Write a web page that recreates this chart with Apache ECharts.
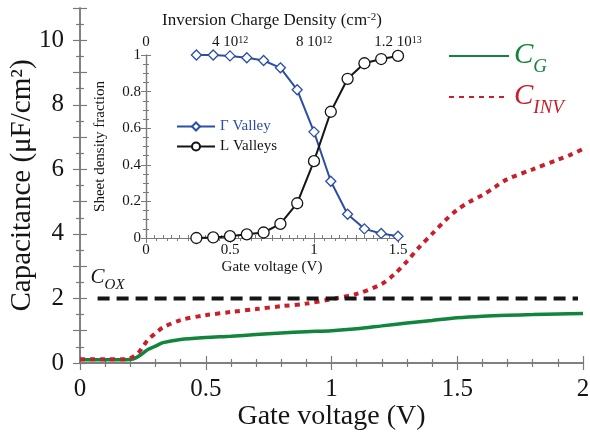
<!DOCTYPE html>
<html>
<head>
<meta charset="utf-8">
<script src="https://cdn.jsdelivr.net/npm/echarts@6/dist/echarts.min.js"></script>
<style>
  html, body { margin: 0; padding: 0; background: #fff; }
  #chart { width: 590px; height: 436px; }
</style>
</head>
<body>
<div id="chart"></div>
<script>
// main panel: capacitance vs gate voltage
const cgVoltage = [0, 0.1, 0.2, 0.22, 0.25, 0.27, 0.3, 0.33, 0.4, 0.5, 0.6, 0.7, 0.8, 0.9, 1.0, 1.1, 1.2, 1.3, 1.4, 1.5, 1.6, 1.7, 1.8, 1.9, 2.0];
const cgValues = [0.1, 0.1, 0.11, 0.15, 0.3, 0.42, 0.52, 0.63, 0.73, 0.79, 0.83, 0.88, 0.93, 0.97, 1.0, 1.06, 1.15, 1.24, 1.32, 1.4, 1.45, 1.48, 1.5, 1.52, 1.53];
const invVoltage = [0, 0.1, 0.18, 0.2, 0.23, 0.25, 0.27, 0.3, 0.33, 0.4, 0.5, 0.6, 0.7, 0.8, 0.9, 1.0, 1.1, 1.2, 1.25, 1.3, 1.35, 1.4, 1.45, 1.5, 1.55, 1.6, 1.65, 1.7, 1.8, 1.9, 1.95, 2.0];
const invValues = [0.12, 0.12, 0.12, 0.15, 0.3, 0.5, 0.72, 0.92, 1.1, 1.33, 1.48, 1.58, 1.67, 1.76, 1.84, 1.98, 2.14, 2.45, 2.75, 3.15, 3.6, 4.0, 4.4, 4.75, 5.0, 5.2, 5.45, 5.7, 6.0, 6.3, 6.45, 6.63];
const coxVoltage = [0.07, 1.98];
const coxValue = 2;

// inset: sheet density fraction per valley
const valleyVoltage = [0.3, 0.4, 0.5, 0.6, 0.7, 0.8, 0.9, 1.0, 1.1, 1.2, 1.3, 1.4, 1.5];
const gammaFraction = [1.0, 1.0, 0.995, 0.985, 0.97, 0.93, 0.81, 0.58, 0.31, 0.13, 0.05, 0.025, 0.01];
const lFraction = [0.0, 0.003, 0.01, 0.02, 0.03, 0.077, 0.19, 0.42, 0.69, 0.87, 0.955, 0.978, 0.995];
const chargeTicks = [0, 4e12, 8e12, 1.2e13];
const chargeLabels = ["0", "{n|4 10}{s|12}", "{n|8 10}{s|12}", "{n|1.2 10}{s|13}"];

const GREEN = "#12853d", RED = "#c8202b", BLUE = "#2d4ea6", INK = "#151515", AXIS = "#7a7a7a";
const SERIF = "Liberation Serif";

const pairs = (xs, ys) => xs.map((x, i) => [x, ys[i]]);

const chart = echarts.init(document.getElementById("chart"), null, { renderer: "canvas" });

const mainAxisCommon = {
  axisLine: { show: true, lineStyle: { color: AXIS, width: 1.5 } },
  axisTick: { inside: true, length: 7, lineStyle: { color: AXIS, width: 1.2 } },
  minorTick: { show: true, length: 4, lineStyle: { color: AXIS, width: 1.2 } },
  splitLine: { show: false },
  nameMoveOverlap: false
};
const insetAxisCommon = {
  axisLine: { show: true, lineStyle: { color: AXIS, width: 1.2 } },
  axisTick: { inside: true, length: 5, lineStyle: { color: AXIS } },
  minorTick: { show: true, length: 3, lineStyle: { color: AXIS } },
  splitLine: { show: false },
  nameMoveOverlap: false
};
const hideSymbol = { color: "rgba(0,0,0,0)", borderColor: "rgba(0,0,0,0)", opacity: 0 };

chart.setOption({
  animation: false,
  textStyle: { fontFamily: SERIF },
  grid: [
    { left: 80, top: 8, width: 503, height: 355, outerBoundsMode: "none", containLabel: false },
    { left: 146, top: 55, width: 252, height: 183, outerBoundsMode: "none", containLabel: false }
  ],
  xAxis: [
    { ...mainAxisCommon, gridIndex: 0, type: "value", min: 0, max: 2, interval: 0.5,
      minorTick: { ...mainAxisCommon.minorTick, splitNumber: 5 },
      axisLabel: { color: INK, fontSize: 25, fontFamily: SERIF, margin: 14 },
      name: "Gate voltage (V)", nameLocation: "middle", nameGap: 40,
      nameTextStyle: { color: INK, fontSize: 28, fontFamily: SERIF } },
    { ...mainAxisCommon, gridIndex: 0, type: "value", position: "top", min: 0, max: 2, interval: 0.5,
      minorTick: { ...mainAxisCommon.minorTick, splitNumber: 5 }, axisLabel: { show: false } },
    { ...insetAxisCommon, gridIndex: 1, type: "value", min: 0, max: 1.5, interval: 0.5,
      minorTick: { ...insetAxisCommon.minorTick, splitNumber: 10 },
      axisLabel: { color: INK, fontSize: 15, fontFamily: SERIF, margin: 5 },
      name: "Gate voltage (V)", nameLocation: "middle", nameGap: 22,
      nameTextStyle: { color: INK, fontSize: 15, fontFamily: SERIF } },
    { ...insetAxisCommon, gridIndex: 1, type: "value", position: "top", min: 0, max: 1.2e13, interval: 4e12,
      minorTick: { ...insetAxisCommon.minorTick, splitNumber: 8 },
      axisLabel: { color: INK, fontSize: 15, fontFamily: SERIF, margin: 5,
        formatter: v => chargeLabels[chargeTicks.indexOf(v)] ?? "",
        rich: { n: { fontSize: 15, fontFamily: SERIF, color: INK },
                s: { fontSize: 10, fontFamily: SERIF, color: INK, verticalAlign: "top", lineHeight: 10 } } },
      name: "{t|Inversion Charge Density (cm}{s|-2}{t|)}", nameLocation: "middle", nameGap: 26,
      nameTextStyle: { color: INK, fontSize: 17, fontFamily: SERIF,
        rich: { t: { fontSize: 17, fontFamily: SERIF, color: INK },
                s: { fontSize: 11, fontFamily: SERIF, color: INK, verticalAlign: "top", lineHeight: 10 } } } }
  ],
  yAxis: [
    { ...mainAxisCommon, gridIndex: 0, type: "value", min: 0, max: 11, interval: 1,
      minorTick: { ...mainAxisCommon.minorTick, splitNumber: 2 },
      axisLabel: { color: INK, fontSize: 25, fontFamily: SERIF, margin: 16,
        formatter: v => (v % 2 === 0 && v <= 10 ? String(v) : "") },
      name: "Capacitance (μF/cm²)", nameLocation: "middle", nameGap: 43,
      nameTextStyle: { color: INK, fontSize: 29, fontFamily: SERIF } },
    { ...mainAxisCommon, gridIndex: 0, type: "value", position: "right", min: 0, max: 11, interval: 1,
      minorTick: { ...mainAxisCommon.minorTick, splitNumber: 2 }, axisLabel: { show: false } },
    { ...insetAxisCommon, gridIndex: 1, type: "value", min: 0, max: 1, interval: 0.2,
      minorTick: { ...insetAxisCommon.minorTick, splitNumber: 4 },
      axisLabel: { color: INK, fontSize: 15, fontFamily: SERIF, margin: 5 },
      name: "Sheet density fraction", nameLocation: "middle", nameGap: 38,
      nameTextStyle: { color: INK, fontSize: 15, fontFamily: SERIF } },
    { ...insetAxisCommon, gridIndex: 1, type: "value", position: "right", min: 0, max: 1, interval: 0.2,
      minorTick: { ...insetAxisCommon.minorTick, splitNumber: 4 }, axisLabel: { show: false } }
  ],
  legend: [
    { orient: "vertical", left: 443, top: 36, itemWidth: 60, itemHeight: 14, itemGap: 6,
      data: [{ name: "CG", itemStyle: hideSymbol }, { name: "CINV", itemStyle: hideSymbol }],
      formatter: name => (name === "CG" ? "{gm|C}{gs|G}" : "{rm|C}{rs|INV}"),
      textStyle: { fontFamily: SERIF,
        rich: {
          gm: { color: GREEN, fontSize: 29, fontStyle: "italic", fontFamily: SERIF, lineHeight: 30, verticalAlign: "top" },
          gs: { color: GREEN, fontSize: 19, fontStyle: "italic", fontFamily: SERIF, lineHeight: 19, padding: [16, 0, 0, 0], verticalAlign: "top" },
          rm: { color: RED, fontSize: 29, fontStyle: "italic", fontFamily: SERIF, lineHeight: 30, verticalAlign: "top" },
          rs: { color: RED, fontSize: 19, fontStyle: "italic", fontFamily: SERIF, lineHeight: 19, padding: [16, 0, 0, 0], verticalAlign: "top" }
        } } },
    { orient: "vertical", left: 171, top: 114, itemWidth: 38, itemHeight: 10, itemGap: 5,
      data: [{ name: "Γ Valley", textStyle: { color: BLUE } }, { name: "L Valleys", textStyle: { color: INK } }],
      textStyle: { fontFamily: SERIF, fontSize: 15 } }
  ],
  series: [
    { name: "CG", type: "line", xAxisIndex: 0, yAxisIndex: 0, data: pairs(cgVoltage, cgValues),
      smooth: 0.3, symbol: "none", color: GREEN, lineStyle: { color: GREEN, width: 3.5 } },
    { name: "CINV", type: "line", xAxisIndex: 0, yAxisIndex: 0, data: pairs(invVoltage, invValues),
      smooth: 0.3, symbol: "none", color: RED, lineStyle: { color: RED, width: 4, type: [5, 5] } },
    { name: "COX", type: "line", xAxisIndex: 0, yAxisIndex: 0, data: pairs(coxVoltage, coxVoltage.map(() => coxValue)),
      symbol: "none", color: INK, lineStyle: { color: INK, width: 4, type: [12, 7] } },
    { name: "Γ Valley", type: "line", xAxisIndex: 2, yAxisIndex: 2, data: pairs(valleyVoltage, gammaFraction),
      symbol: "diamond", symbolSize: 10, color: BLUE,
      itemStyle: { color: "#fff", borderColor: BLUE, borderWidth: 1.3 }, lineStyle: { color: BLUE, width: 2 } },
    { name: "L Valleys", type: "line", xAxisIndex: 2, yAxisIndex: 2, data: pairs(valleyVoltage, lFraction),
      symbol: "circle", symbolSize: 11, color: INK,
      itemStyle: { color: "#fff", borderColor: INK, borderWidth: 1.3 }, lineStyle: { color: INK, width: 2 } }
  ]
});

// C_OX annotation, anchored to the start of the oxide line
const coxAnchor = chart.convertToPixel({ gridIndex: 0 }, [coxVoltage[0], coxValue]);
chart.setOption({
  graphic: [{
    type: "text", x: coxAnchor[0] - 7, y: coxAnchor[1] - 31,
    style: {
      text: "{m|C}{s|OX}",
      rich: {
        m: { fontSize: 21, fontStyle: "italic", fontFamily: SERIF, fill: INK, lineHeight: 22, verticalAlign: "top" },
        s: { fontSize: 15, fontStyle: "italic", fontFamily: SERIF, fill: INK, lineHeight: 15, padding: [10, 0, 0, 0], verticalAlign: "top" }
      }
    }
  }]
});
</script>
</body>
</html>
